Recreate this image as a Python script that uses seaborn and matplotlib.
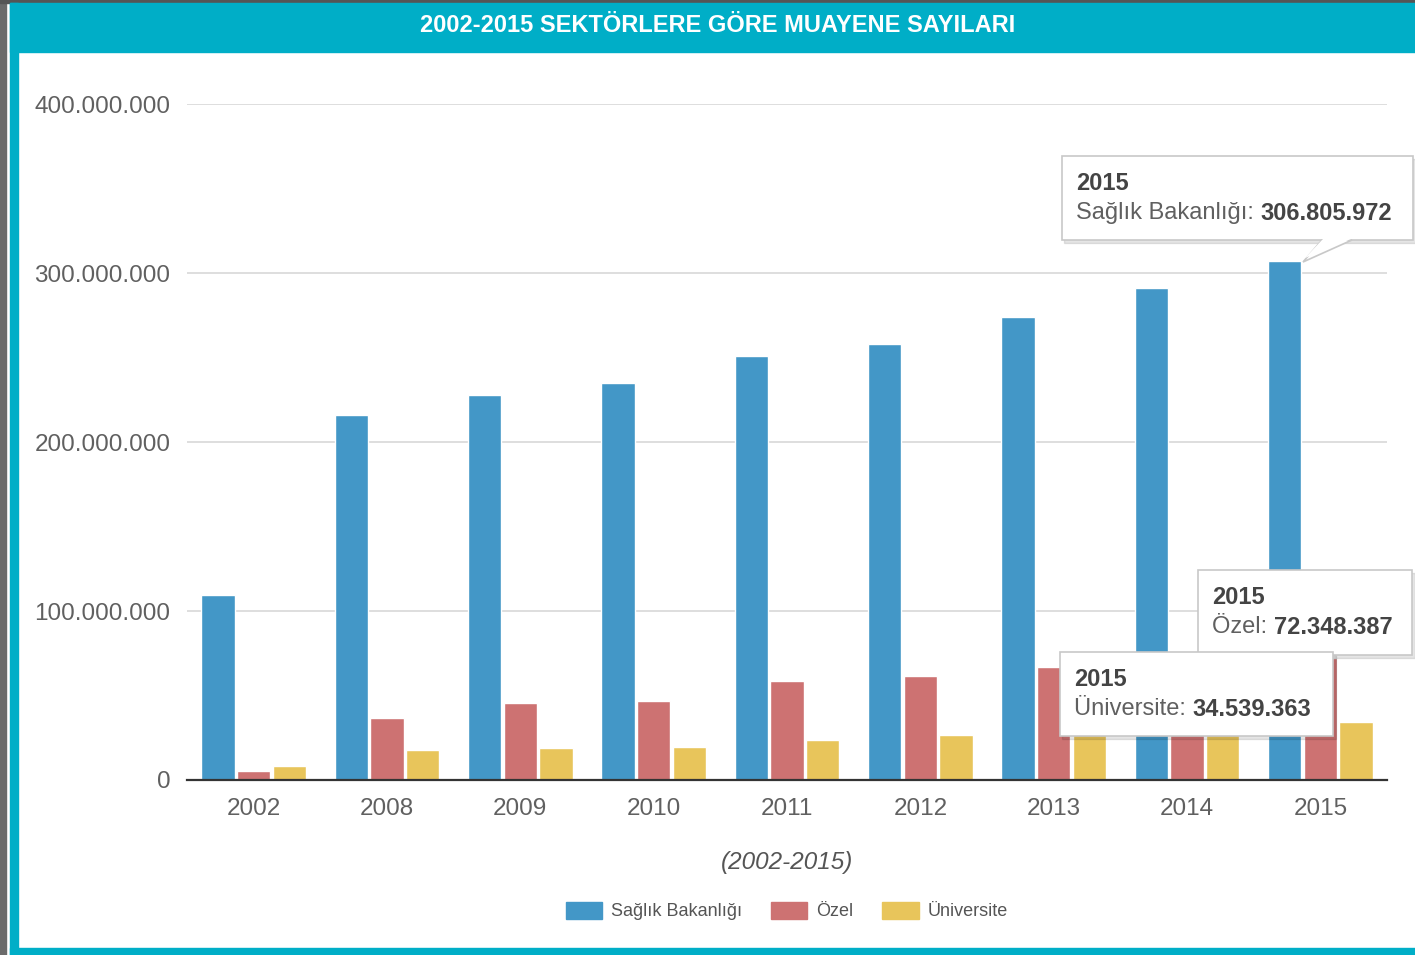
import matplotlib
matplotlib.use("Agg")
import matplotlib.pyplot as plt
from matplotlib.patches import Rectangle, Polygon
import seaborn as sns
import pandas as pd

years = ["2002", "2008", "2009", "2010", "2011", "2012", "2013", "2014", "2015"]
saglik = [109.5, 216.0, 227.8, 234.9, 250.9, 258.0, 274.0, 291.0, 306.805972]
ozel = [5.3, 36.7, 45.6, 46.7, 58.6, 61.5, 66.9, 70.0, 72.348387]
universite = [8.3, 17.8, 18.9, 19.5, 23.7, 26.6, 29.0, 31.0, 34.539363]
series_names = ["Sağlık Bakanlığı", "Özel", "Üniversite"]
colors = ["#4397C7", "#CD7272", "#E8C55B"]
y_ticks = [0, 100e6, 200e6, 300e6, 400e6]
y_labels = ["0", "100.000.000", "200.000.000", "300.000.000", "400.000.000"]

rows = []
for name, vals in zip(series_names, [saglik, ozel, universite]):
    for y, v in zip(years, vals):
        rows.append({"Yıl": y, "Sektör": name, "Muayene": v * 1e6})
df = pd.DataFrame(rows)

sns.set_theme(style="white")
plt.rcParams["font.family"] = ["Liberation Sans", "DejaVu Sans"]

W, H = 1415, 955
fig = plt.figure(figsize=(W / 100, H / 100), dpi=100, facecolor="white")


def fx(x):
    return x / W


def fy(y):
    return 1 - y / H


def prect(x0, y0, x1, y1, **kw):
    fig.patches.append(Rectangle((fx(x0), fy(y1)), fx(x1) - fx(x0), fy(y0) - fy(y1),
                                 transform=fig.transFigure, figure=fig, **kw))


# frame: dark edges, teal header and borders
teal = "#00AEC7"
prect(0, 0, 6, H, color="#6b6b6b", zorder=0)
prect(0, 0, W, 3, color="#555555", zorder=0)
prect(10, 3, W, 52, color=teal, zorder=0)
prect(10, 3, 18, H, color=teal, zorder=0)
prect(10, 948, W, H, color=teal, zorder=0)
fig.text(fx(718), fy(25), "2002-2015 SEKTÖRLERE GÖRE MUAYENE SAYILARI", color="white",
         fontsize=17, fontweight="bold", ha="center", va="center")

ax = fig.add_axes([fx(187), fy(780), fx(1387) - fx(187), fy(104) - fy(780)])
sns.barplot(data=df, x="Yıl", y="Muayene", hue="Sektör", palette=colors, width=0.8,
            gap=0.06, saturation=1, ax=ax, legend=False, zorder=2)
ax.set_xlim(-0.5, len(years) - 0.5)
ax.set_ylim(0, 400e6)
ax.set_yticks(y_ticks)
ax.set_yticklabels(y_labels)
ax.yaxis.grid(True, color="#D8D8D8", linewidth=1.2, zorder=0)
ax.set_axisbelow(True)
for s in ["top", "right", "left"]:
    ax.spines[s].set_visible(False)
ax.spines["bottom"].set_color("#333333")
ax.spines["bottom"].set_linewidth(1.6)
ax.tick_params(axis="y", length=0, pad=12, labelsize=17.5, labelcolor="#606060")
ax.tick_params(axis="x", length=0, pad=13, labelsize=17.5, labelcolor="#606060")
ax.set_xlabel("(2002-2015)", fontsize=17.5, style="italic", color="#555555", labelpad=22)
ax.set_ylabel("")
for lab in ax.get_yticklabels():
    lab.set_ha("right")

# legend
handles = [Rectangle((0, 0), 1, 1, color=c) for c in colors]
fig.legend(handles, series_names, loc="center", bbox_to_anchor=(fx(787), fy(911)), ncol=3,
           frameon=False, fontsize=13, labelcolor="#555555", handlelength=2.0,
           handleheight=1.1, columnspacing=1.6, handletextpad=0.5)


# tooltips
def tooltip(x0, y0, x1, y1, title, label, value, pointer=None):
    prect(x0 + 2, y0 + 3, x1 + 3, y1 + 3, color="#000000", alpha=0.10, zorder=5)
    prect(x0, y0, x1, y1, facecolor="white", edgecolor="#C8C8C8", linewidth=1.2, zorder=6)
    if pointer is not None:
        pts = [(fx(px), fy(py)) for px, py in pointer]
        fig.patches.append(Polygon(pts, closed=True, facecolor="white", edgecolor="#C8C8C8",
                                   linewidth=1.2, transform=fig.transFigure, figure=fig, zorder=6))
        a, b = pointer[0], pointer[2]
        fig.patches.append(Polygon([(fx(a[0] + 1), fy(a[1] - 1)), (fx(b[0] - 1), fy(b[1] - 1)),
                                    (fx(pointer[1][0] + 2), fy(pointer[1][1] - 4))], closed=True,
                                   facecolor="white", edgecolor="none",
                                   transform=fig.transFigure, figure=fig, zorder=7))
    fig.text(fx(x0 + 14), fy(y0 + 27), title, fontsize=17, fontweight="bold",
             color="#444444", va="center", zorder=8)
    t = fig.text(fx(x0 + 14), fy(y0 + 57), label + " ", fontsize=17, color="#606060",
                 va="center", zorder=8)
    fig.canvas.draw()
    bb = t.get_window_extent()
    fig.text(bb.x1 / W, fy(y0 + 57), value, fontsize=17, fontweight="bold",
             color="#444444", va="center", zorder=8)


tooltip(1062, 156, 1413, 240, "2015", "Sağlık Bakanlığı:", "306.805.972",
        pointer=[(1322, 240), (1303, 262), (1352, 240)])
tooltip(1198, 570, 1412, 655, "2015", "Özel:", "72.348.387")
tooltip(1060, 652, 1333, 736, "2015", "Üniversite:", "34.539.363")

fig.savefig("out.png", dpi=100, facecolor="white")
